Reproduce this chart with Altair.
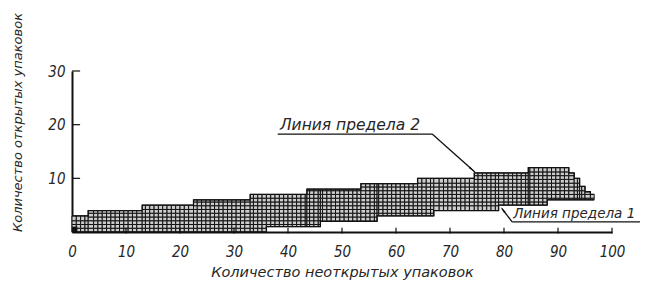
import altair as alt
import pandas as pd

# ---- data ----
x_ticks = [0, 10, 20, 30, 40, 50, 60, 70, 80, 90, 100]
y_ticks = [10, 20, 30]

# upper limit (line 2): step starts and heights
upper_start = [0, 3, 13, 22.5, 33, 43.5, 53.5, 64, 74.5, 84.5, 92, 93, 94, 95, 96]
upper_value = [3, 4, 5, 6, 7, 8, 9, 10, 11, 12, 11, 10, 8.5, 7.5, 7]
# lower limit (line 1)
lower_start = [0, 36, 46, 56.5, 67, 79, 88]
lower_value = [0, 1, 2, 3, 4, 5, 6]
band_end = 96.7

# annotation lines (data coordinates)
label_text = ["Линия предела 2", "Линия предела 1"]
label_x = [38.5, 81.7]
label_y = [19.0, 2.6]
label_size = [15.5, 13.5]
leader_x = [38.1, 66.7, 106.0, 81.5]
leader_y = [18.25, 18.25, 1.9, 1.9]
leader_x2 = [66.7, 74.6, 81.5, 79.6]
leader_y2 = [18.25, 11.2, 1.9, 4.4]
arrow_x = [73.9, 79.9]
arrow_y = [11.8, 4.0]
arrow_angle = [131.5, 323]

x_title = "Количество неоткрытых упаковок"
y_title = "Количество открытых упаковок"

# hatch spacing (data units)
hatch_dx = 0.8
hatch_dy = 0.7


# ---- hatch cells built from the step arrays ----
def step_val(starts, vals, x):
    v = vals[0]
    for s, val in zip(starts, vals):
        if x >= s - 1e-9:
            v = val
    return v


fixed = set(upper_start) | set(lower_start) | {band_end}
xb = set(fixed)
k = 0
while k * hatch_dx < band_end:
    xb.add(round(k * hatch_dx, 4))
    k += 1
xb = sorted(v for v in xb if v <= band_end)
xcols = []
for a in xb:
    if xcols and a - xcols[-1] < 0.25:
        if a in fixed:
            xcols[-1] = a
        continue
    xcols.append(a)

cells = []
for a, b in zip(xcols[:-1], xcols[1:]):
    top = step_val(upper_start, upper_value, a)
    bot = step_val(lower_start, lower_value, a)
    yb = {bot, top}
    j = 0
    while j * hatch_dy < top:
        v = round(j * hatch_dy, 4)
        if bot + 0.2 < v < top - 0.2:
            yb.add(v)
        j += 1
    yb = sorted(yb)
    for r0, r1 in zip(yb[:-1], yb[1:]):
        cells.append({"x": a, "x2": b, "y": r0, "y2": r1})
cells_df = pd.DataFrame(cells)

xs = alt.Scale(domain=[0, 100], nice=False, zero=False)
ys = alt.Scale(domain=[0, 30], nice=False, zero=False)

LABEL_FONT = "DejaVu Sans Condensed, DejaVu Sans"
TITLE_FONT = "DejaVu Sans"
TXT = "#262626"

base_axis_x = alt.Axis(values=x_ticks, title=x_title, ticks=False, grid=False,
                       labelPadding=12, labelFont=LABEL_FONT, labelFontStyle="italic",
                       labelFontSize=15, labelColor=TXT, domainColor="#111",
                       domainWidth=2, titleFont=TITLE_FONT, titleFontStyle="italic",
                       titleFontWeight="normal", titleFontSize=14.5, titleColor=TXT,
                       titleY=44, titleBaseline="alphabetic", labelFlush=False)
base_axis_y = alt.Axis(values=y_ticks, title=y_title, ticks=False, grid=False,
                       labelPadding=7, labelFont=LABEL_FONT, labelFontStyle="italic",
                       labelFontSize=15, labelColor=TXT, domainColor="#111",
                       domainWidth=2, titleFont=TITLE_FONT, titleFontStyle="italic",
                       titleFontWeight="normal", titleFontSize=13, titleColor=TXT,
                       titleX=-55, titleY=51, titleAngle=-90, titleAlign="center",
                       titleBaseline="middle", labelFlush=False)

hatch = alt.Chart(cells_df).mark_rect(fill="#cdcdcd", stroke="#111", strokeWidth=1.0).encode(
    x=alt.X("x:Q", scale=xs, axis=base_axis_x),
    x2="x2:Q",
    y=alt.Y("y:Q", scale=ys, axis=base_axis_y),
    y2="y2:Q",
)

# band outlines as step lines
up_df = pd.DataFrame({"x": upper_start + [band_end], "y": upper_value + [upper_value[-1]]})
lo_df = pd.DataFrame({"x": lower_start + [band_end], "y": lower_value + [lower_value[-1]]})
up_line = alt.Chart(up_df).mark_line(interpolate="step-after", color="#111", strokeWidth=1.3).encode(
    x=alt.X("x:Q", scale=xs), y=alt.Y("y:Q", scale=ys))
lo_line = alt.Chart(lo_df).mark_line(interpolate="step-after", color="#111", strokeWidth=1.3).encode(
    x=alt.X("x:Q", scale=xs), y=alt.Y("y:Q", scale=ys))

corner = alt.Chart(pd.DataFrame({"x": [0], "x2": [1], "y": [0], "y2": [1]})).mark_rect(color="#111").encode(
    x=alt.X("x:Q", scale=xs), x2="x2:Q", y=alt.Y("y:Q", scale=ys), y2="y2:Q")

xt = pd.DataFrame({"v": x_ticks[1:]})
xtick_rules = alt.Chart(xt).mark_rule(color="#111", strokeWidth=1.2).encode(
    x=alt.X("v:Q", scale=xs), y=alt.datum(-0.3), y2=alt.datum(0.8))
yt = pd.DataFrame({"v": y_ticks})
ytick_rules = alt.Chart(yt).mark_rule(color="#111", strokeWidth=1.2).encode(
    y=alt.Y("v:Q", scale=ys), x=alt.datum(0), x2=alt.datum(1.5))

leaders = alt.Chart(pd.DataFrame({"x": leader_x, "y": leader_y, "x2": leader_x2, "y2": leader_y2})).mark_rule(
    color="#111", strokeWidth=1.3).encode(
    x=alt.X("x:Q", scale=xs), y=alt.Y("y:Q", scale=ys), x2="x2:Q", y2="y2:Q")

arrows = alt.Chart(pd.DataFrame({"x": arrow_x, "y": arrow_y, "a": arrow_angle})).mark_point(
    shape="wedge", filled=True, color="#111", size=60, opacity=1).encode(
    x=alt.X("x:Q", scale=xs), y=alt.Y("y:Q", scale=ys), angle=alt.Angle("a:Q", scale=None))

labels = alt.Chart(pd.DataFrame({"t": label_text, "x": label_x, "y": label_y, "s": label_size})).mark_text(
    align="left", baseline="alphabetic", font=TITLE_FONT, fontStyle="italic",
    color=TXT).encode(
    x=alt.X("x:Q", scale=xs), y=alt.Y("y:Q", scale=ys), text="t:N",
    size=alt.Size("s:Q", scale=None, legend=None))

chart = alt.layer(hatch, up_line, lo_line, corner, xtick_rules, ytick_rules, leaders, arrows, labels).properties(
    width=540, height=161,
    autosize=alt.AutoSizeParams(type="none"),
    padding={"left": 64, "top": 63, "right": 28, "bottom": 48},
    background="white",
).configure_view(stroke=None)

chart.save("out.html", embed_options={"renderer": "svg", "actions": False})
